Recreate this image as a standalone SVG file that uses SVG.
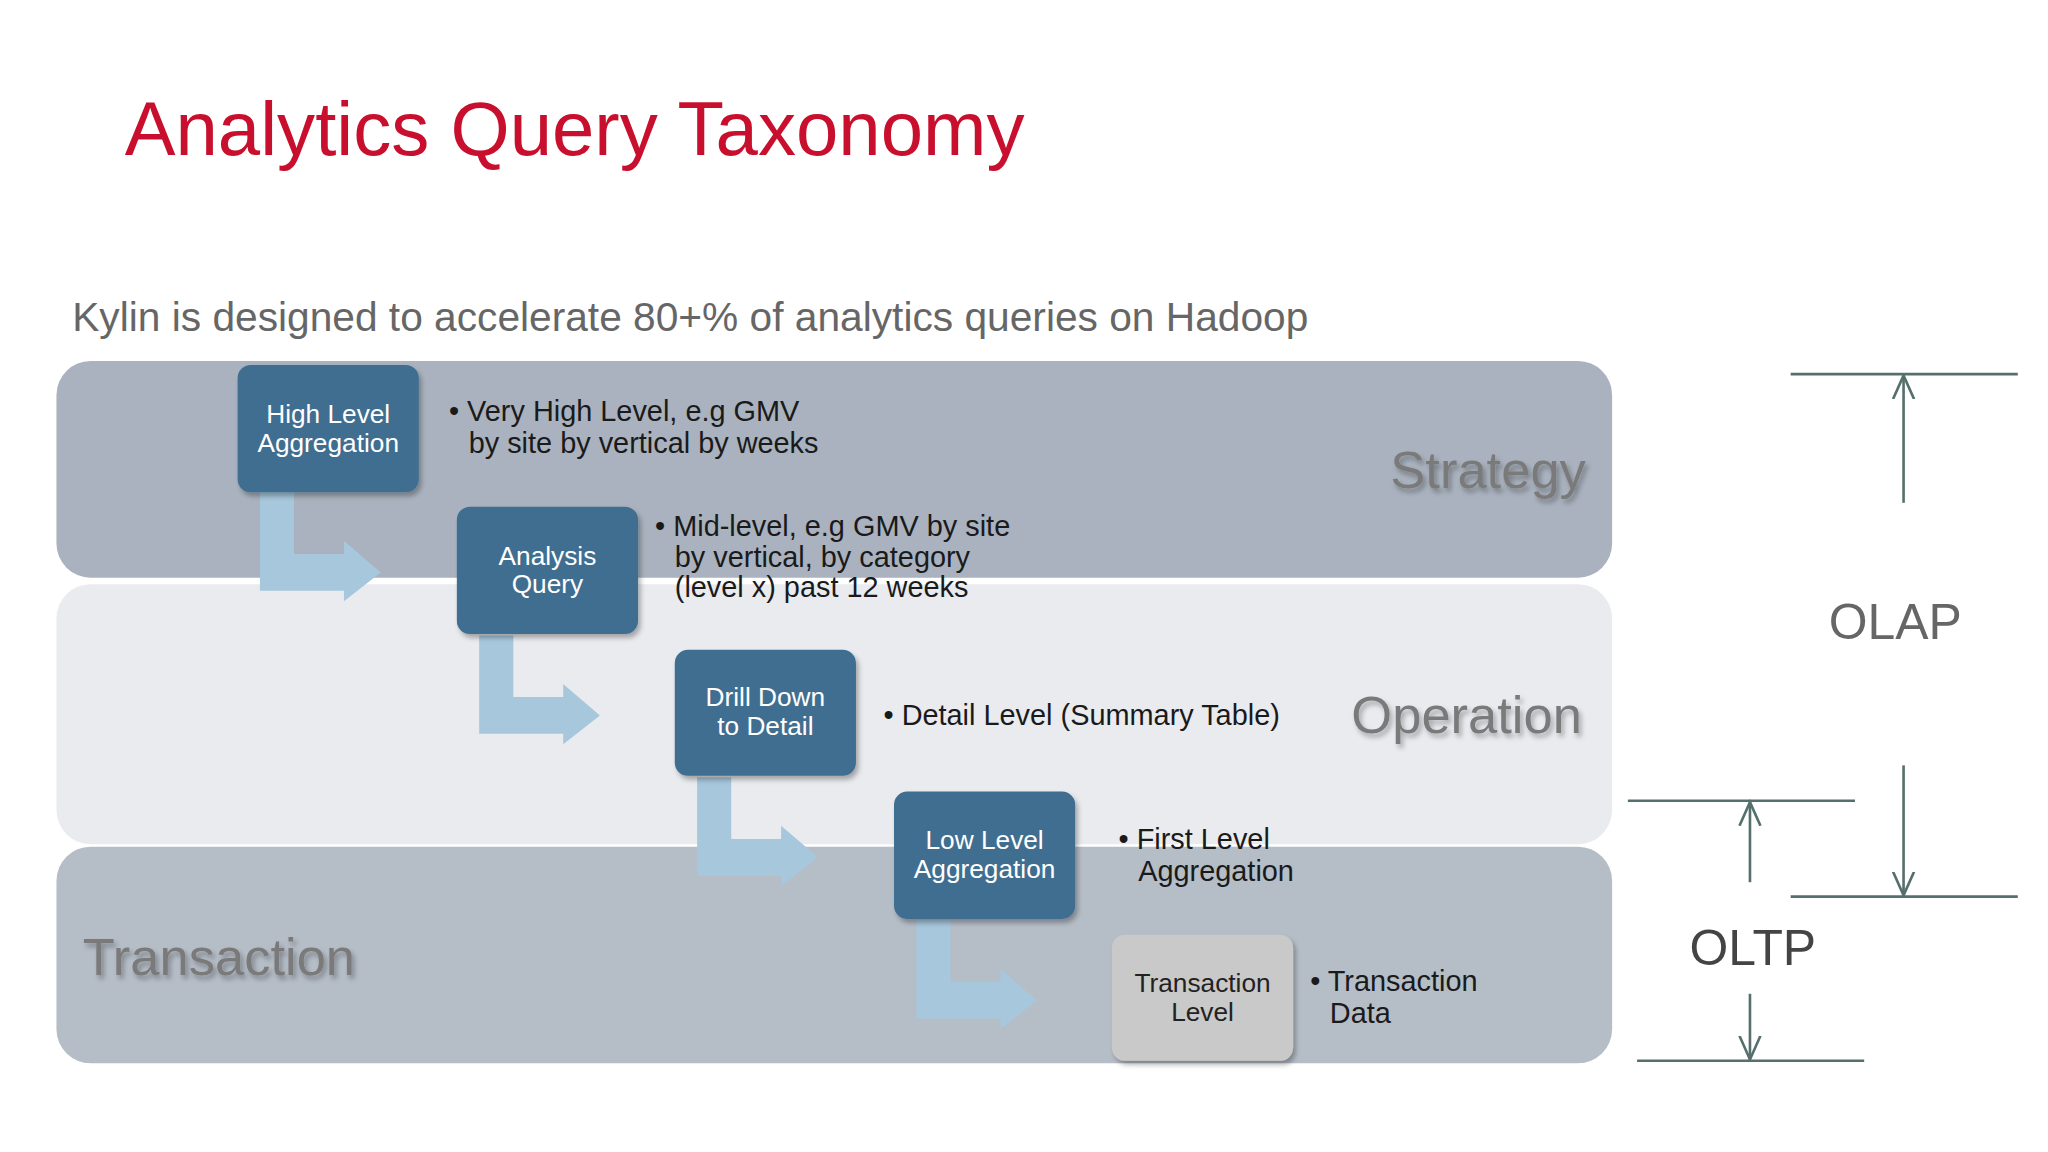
<svg xmlns="http://www.w3.org/2000/svg" width="2048" height="1152" viewBox="0 0 2048 1152">
<defs>
<style>
.box{fill:#3f6e90}
.bt{fill:#fff;font-family:"Liberation Sans",Arial,sans-serif;font-size:20px;text-anchor:middle}
.tx{fill:#1a1a1a;font-family:"Liberation Sans",Arial,sans-serif;font-size:22px}
.band{font-family:"Liberation Sans",Arial,sans-serif;font-size:40px;fill:#7a7a7a}
.ar{fill:#a7c7dc}
.ln{stroke:#55706c;stroke-width:2;fill:none}
</style>
<filter id="sh" x="-10%" y="-10%" width="130%" height="130%"><feDropShadow dx="2" dy="3" stdDeviation="2" flood-color="#000" flood-opacity="0.3"/></filter>
<marker id="ah" viewBox="0 0 10 10" refX="9" refY="5" markerWidth="10" markerHeight="10" orient="auto-start-reverse"><path d="M0,1 L9,5 L0,9" fill="none" stroke="#55706c" stroke-width="1"/></marker>
<g id="arr"><path class="ar" d="M17,0 H43 V47 H81 V37 L109,61 L81,83 V75 H17 Z"/></g>
</defs>
<rect width="2048" height="1152" fill="#fff"/>
<g transform="scale(1.3128)">
<text x="95" y="118" font-family="Liberation Sans,Arial,sans-serif" font-size="58" fill="#c8102e">Analytics Query Taxonomy</text>
<text x="55" y="252" font-family="Liberation Sans,Arial,sans-serif" font-size="31" fill="#666">Kylin is designed to accelerate 80+% of analytics queries on Hadoop</text>
<g id="bands">
<rect x="43" y="445" width="1185" height="198" rx="26" fill="#e9ebef"/>
<rect x="43" y="275" width="1185" height="165" rx="26" fill="#a9b2be"/>
<rect x="43" y="645" width="1185" height="165" rx="26" fill="#b5bdc7"/>
<text class="band" x="1208" y="372" text-anchor="end" filter="url(#sh)">Strategy</text>
<text class="band" x="1205" y="558" text-anchor="end" filter="url(#sh)">Operation</text>
<text class="band" x="63" y="743" filter="url(#sh)">Transaction</text>
</g>
<g id="connectors">
<use href="#arr" x="181" y="375"/>
<use href="#arr" x="348" y="484"/>
<use href="#arr" x="514" y="592"/>
<use href="#arr" x="681" y="701"/>
</g>
<g id="n1"><rect class="box" x="181" y="278" width="138" height="97" rx="10" filter="url(#sh)"/><text class="bt" x="250" y="322">High Level</text><text class="bt" x="250" y="344">Aggregation</text></g>
<g id="n2"><rect class="box" x="348" y="386" width="138" height="97" rx="10" filter="url(#sh)"/><text class="bt" x="417" y="430">Analysis</text><text class="bt" x="417" y="452">Query</text></g>
<g id="n3"><rect class="box" x="514" y="495" width="138" height="96" rx="10" filter="url(#sh)"/><text class="bt" x="583" y="538">Drill Down</text><text class="bt" x="583" y="560">to Detail</text></g>
<g id="n4"><rect class="box" x="681" y="603" width="138" height="97" rx="10" filter="url(#sh)"/><text class="bt" x="750" y="647">Low Level</text><text class="bt" x="750" y="669">Aggregation</text></g>
<g id="n5"><rect x="847" y="712" width="138" height="96" rx="10" fill="#c9c9c9" filter="url(#sh)"/><text class="bt" x="916" y="756" fill="#222" style="fill:#222">Transaction</text><text class="bt" style="fill:#222" x="916" y="778">Level</text></g>
<g id="notes">
<text class="tx" x="342" y="321">• Very High Level, e.g GMV</text><text class="tx" x="357" y="345">by site by vertical by weeks</text>
<text class="tx" x="499" y="408">• Mid-level, e.g GMV by site</text><text class="tx" x="514" y="432">by vertical, by category</text><text class="tx" x="514" y="455">(level x) past 12 weeks</text>
<text class="tx" x="673" y="552">• Detail Level (Summary Table)</text>
<text class="tx" x="852" y="647">• First Level</text><text class="tx" x="867" y="671">Aggregation</text>
<text class="tx" x="998" y="755">• Transaction</text><text class="tx" x="1013" y="779">Data</text>
</g>
<g id="scale">
<line class="ln" x1="1364" y1="285" x2="1537" y2="285"/>
<line class="ln" x1="1450" y1="383" x2="1450" y2="286" marker-end="url(#ah)"/>
<line class="ln" x1="1450" y1="583" x2="1450" y2="682" marker-end="url(#ah)"/>
<line class="ln" x1="1364" y1="683" x2="1537" y2="683"/>
<line class="ln" x1="1240" y1="610" x2="1413" y2="610"/>
<line class="ln" x1="1333" y1="672" x2="1333" y2="611" marker-end="url(#ah)"/>
<line class="ln" x1="1333" y1="757" x2="1333" y2="807" marker-end="url(#ah)"/>
<line class="ln" x1="1247" y1="808" x2="1420" y2="808"/>
<text x="1393" y="487" font-family="Liberation Sans,Arial,sans-serif" font-size="38" fill="#666">OLAP</text>
<text x="1287" y="735" font-family="Liberation Sans,Arial,sans-serif" font-size="38" fill="#444">OLTP</text>
</g>
</g>
</svg>
